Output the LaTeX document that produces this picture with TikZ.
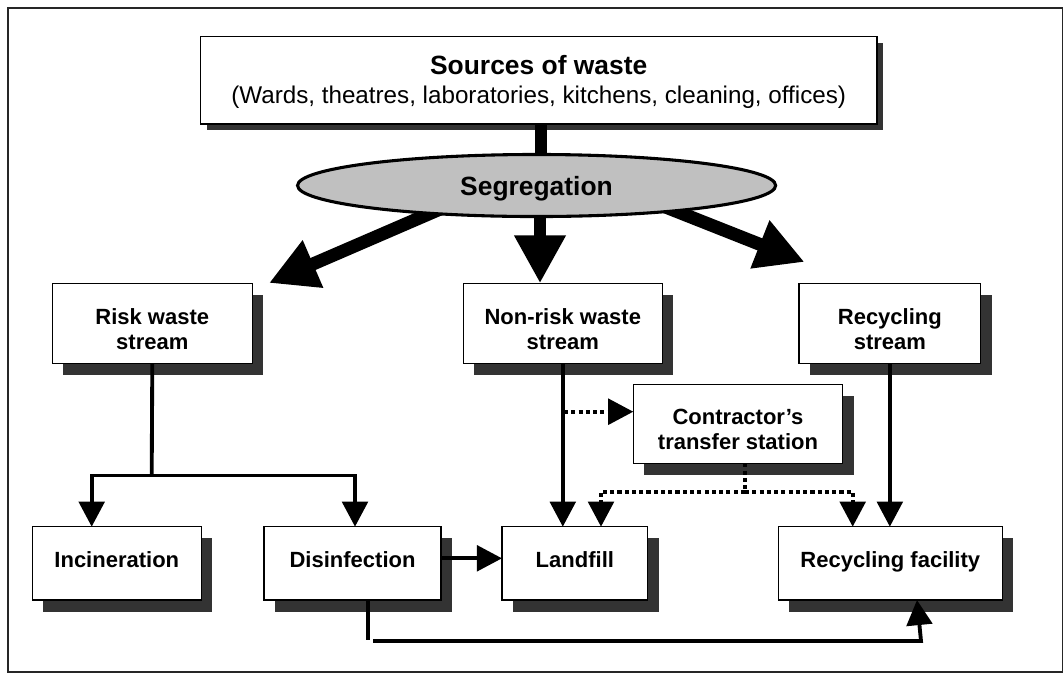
\documentclass[tikz,border=0pt]{standalone}
\usepackage{fontspec}
\setmainfont{Liberation Sans}
\usetikzlibrary{arrows.meta,shapes.geometric,fit,calc}
\definecolor{shd}{HTML}{333333}
\definecolor{segfill}{HTML}{C0C0C0}
\pgfdeclarelayer{shadowl}
\pgfdeclarelayer{conn}
\pgfsetlayers{shadowl,conn,main}
\begin{document}
\begin{tikzpicture}[x=0.4545pt,y=-0.4545pt,
  boxn/.style={draw,line width=0.65pt,fill=white,inner sep=0pt,outer sep=0pt},
  lbl/.style={font=\fontsize{10}{11.5}\selectfont\bfseries,align=center,inner sep=0pt,anchor=north},
  thinline/.style={line width=1.75pt},
  thinarrow/.style={thinline,-{Triangle[length=11.4pt,width=11.6pt]}},
  dotline/.style={thinline,dash pattern=on 1.9pt off 1.4pt},
  dotarrow/.style={dotline,-{Triangle[length=11.4pt,width=11.6pt]}},
  bigline/.style={line width=5.6pt},
  bigarrow/.style={line width=5.9pt,-{Triangle[length=21.8pt,width=22pt]}},
]
\useasboundingbox (0,0) rectangle (1064,674);
\draw[line width=0.7pt,black!85] (8,8) rectangle (1062.5,672);

% boxes
\node[boxn, fit={(200.5,36.5) (877,124)}] (src) {};
\node[boxn, fit={(52.3,283.3) (252.3,363.3)}] (risk) {};
\node[boxn, fit={(463.3,283.3) (662.3,363.3)}] (nonrisk) {};
\node[boxn, fit={(799,283.3) (980.7,363.3)}] (recs) {};
\node[boxn, fit={(633.3,384.3) (842.7,463.3)}] (contr) {};
\node[boxn, fit={(32.3,526.7) (201.3,600)}] (incin) {};
\node[boxn, fit={(264.1,526.7) (441,600)}] (disinf) {};
\node[boxn, fit={(502,526.7) (647.7,600)}] (landf) {};
\node[boxn, fit={(778.3,526.7) (1002.3,600)}] (recfac) {};

% shadows
\begin{pgfonlayer}{shadowl}
\fill[shd] ($(src.south west)+(6,6)$) rectangle ($(src.north east)+(6,6)$);
\foreach \b in {risk,nonrisk,recs,contr,incin,disinf,landf,recfac}{
  \fill[shd] ($(\b.south west)+(11,11.5)$) rectangle ($(\b.north east)+(11,11.5)$);
}
\end{pgfonlayer}

% texts
\node[font=\fontsize{12}{14}\selectfont\bfseries, anchor=base, inner sep=0pt] (srcT) at (538.7,74) {Sources of waste};
\node[font=\fontsize{11}{13}\selectfont, anchor=base, inner sep=0pt] (srcS) at (538.7,103) {(Wards, theatres, laboratories, kitchens, cleaning, offices)};
\node[lbl] (riskT) at ($(risk.north)+(0,24.5)$) {Risk waste\\stream};
\node[lbl] (nonriskT) at ($(nonrisk.north)+(0,24.5)$) {Non-risk waste\\stream};
\node[lbl] (recsT) at ($(recs.north)+(0,24.5)$) {Recycling\\stream};
\node[lbl] (contrT) at ($(contr.north)+(0,24.5)$) {Contractor’s\\transfer station};
\node[lbl] (incinT) at ($(incin.north)+(0,24)$) {Incineration};
\node[lbl] (disinfT) at ($(disinf.north)+(0,24)$) {Disinfection};
\node[lbl] (landfT) at ($(landf.north)+(0,24)$) {Landfill};
\node[lbl] (recfacT) at ($(recfac.north)+(0,24)$) {Recycling facility};

% segregation ellipse
\node[ellipse, draw, line width=1.4pt, fill=segfill, minimum width=217.3pt, minimum height=28.2pt, inner sep=0pt] (seg) at (536.6,185.5) {};
\node[font=\fontsize{12}{14}\selectfont\bfseries, anchor=base, inner sep=0pt] (segT) at (536.5,195) {Segregation};

% connectors
\coordinate (bigL0) at (468,197);
\coordinate (bigLtip) at (269,283);
\coordinate (bigR0) at (620,189);
\coordinate (bigRtip) at (804.5,262);
\coordinate (rj) at (151.7,475.5);
\coordinate (dj) at (564,411.7);
\coordinate (cj) at (745,491.7);
\coordinate (bl) at (373,641);
\coordinate (br) at (921,641);
\begin{pgfonlayer}{conn}
\draw[bigline] (src.south -| 541,0) -- (seg.center -| 541,0);
\draw[bigarrow] (seg.center -| 540,0) -- (nonrisk.north -| 540,0);
\draw[bigarrow] (bigL0) -- (bigLtip);
\draw[bigarrow] (bigR0) -- (bigRtip);

\draw[thinline] (risk.south) -- (rj);
\draw[thinarrow] (rj) -| (incin.north -| 91.7,0);
\draw[thinarrow] (rj) -| (disinf.north -| 355,0);
\draw[thinarrow] (disinf.east |- 0,558.3) -- (landf.west |- 0,558.3);
\draw[thinline] (disinf.south -| 368,0) -- (368,640);
\draw[thinarrow] (bl) -- (br) -- (recfac.south -| 917,0);
\draw[thinarrow] (nonrisk.south) -- (landf.north -| nonrisk.south);
\draw[thinarrow] (recs.south) -- (recfac.north -| recs.south);
\draw[dotarrow] (dj) -- (contr.west |- dj);
\draw[dotline] (contr.south -| cj) -- (cj);
\draw[dotarrow] (cj) -| (landf.north -| 601,0);
\draw[dotarrow] (cj) -| (recfac.north -| 852.7,0);
\end{pgfonlayer}
\end{tikzpicture}
\end{document}
